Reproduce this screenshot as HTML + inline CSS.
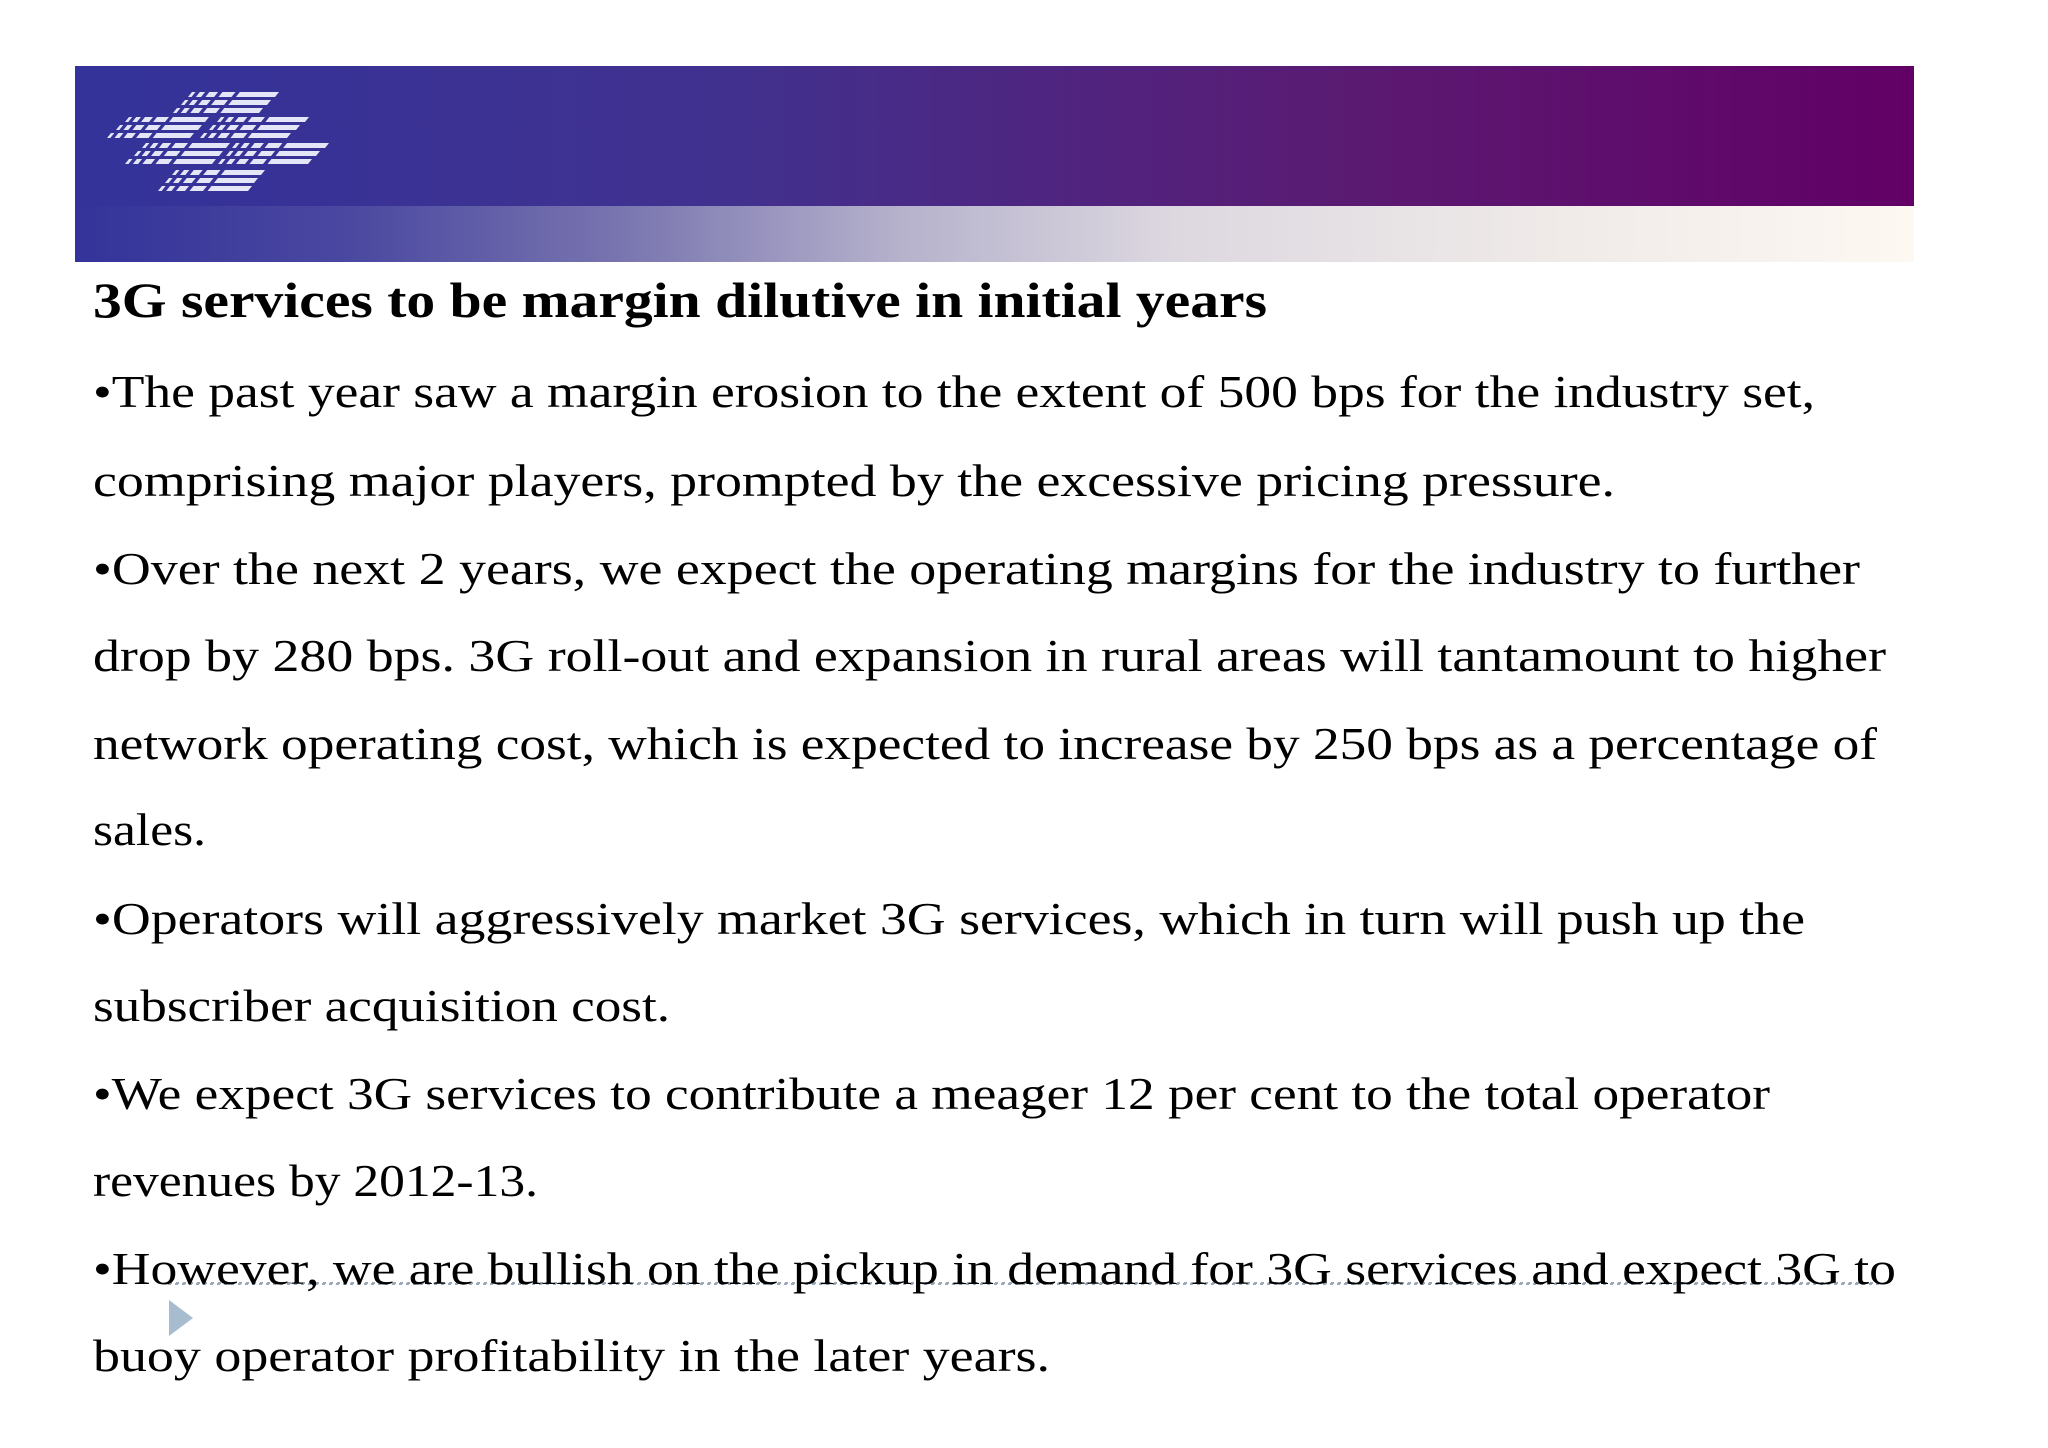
<!DOCTYPE html>
<html><head><meta charset="utf-8">
<style>
html,body{margin:0;padding:0;background:#fff;}
svg{display:block;}
text{font-family:"Liberation Serif",serif;fill:#000;}
</style></head>
<body>
<svg width="2048" height="1448" viewBox="0 0 2048 1448" xmlns="http://www.w3.org/2000/svg">
<defs>
<linearGradient id="top" x1="0" x2="1" y1="0" y2="0">
<stop offset="0" stop-color="#33339a"/>
<stop offset="0.35" stop-color="#41318f"/>
<stop offset="0.7" stop-color="#5b1a72"/>
<stop offset="1" stop-color="#620066"/>
</linearGradient>
<linearGradient id="bot" x1="0" x2="1" y1="0" y2="0">
<stop offset="0" stop-color="#33339a"/>
<stop offset="0.15" stop-color="#4a48a0"/>
<stop offset="0.3" stop-color="#7a76b0"/>
<stop offset="0.45" stop-color="#b6b2cc"/>
<stop offset="0.6" stop-color="#ddd8e0"/>
<stop offset="0.8" stop-color="#efeae8"/>
<stop offset="1" stop-color="#fdf8f2"/>
</linearGradient>
</defs>
<g>
<rect x="75" y="66" width="1839" height="140" fill="url(#top)"/>
<rect x="75" y="206" width="1839" height="56" fill="url(#bot)"/>
</g>
<g fill="#e4e6f8" id="logo"></g>
<rect x="169" y="1283" width="1712" height="1" fill="none" stroke="#9aa8b8" stroke-width="2" stroke-dasharray="3,4"/>
<polygon points="169,1300 193,1318 169,1336" fill="#a8bccf"/>
<text x="93" y="317" font-size="50" font-weight="bold" textLength="1174" lengthAdjust="spacingAndGlyphs">3G services to be margin dilutive in initial years</text>
<g font-size="46">
<text x="93" y="407" textLength="1722" lengthAdjust="spacingAndGlyphs">•The past year saw a margin erosion to the extent of 500 bps for the industry set,</text>
<text x="93" y="496" textLength="1522" lengthAdjust="spacingAndGlyphs">comprising major players, prompted by the excessive pricing pressure.</text>
<text x="93" y="584" textLength="1767" lengthAdjust="spacingAndGlyphs">•Over the next 2 years, we expect the operating margins for the industry to further</text>
<text x="93" y="671" textLength="1793" lengthAdjust="spacingAndGlyphs">drop by 280 bps. 3G roll-out and expansion in rural areas will tantamount to higher</text>
<text x="93" y="759" textLength="1784" lengthAdjust="spacingAndGlyphs">network operating cost, which is expected to increase by 250 bps as a percentage of</text>
<text x="93" y="845" textLength="113" lengthAdjust="spacingAndGlyphs">sales.</text>
<text x="93" y="934" textLength="1712" lengthAdjust="spacingAndGlyphs">•Operators will aggressively market 3G services, which in turn will push up the</text>
<text x="93" y="1021" textLength="577" lengthAdjust="spacingAndGlyphs">subscriber acquisition cost.</text>
<text x="93" y="1109" textLength="1677" lengthAdjust="spacingAndGlyphs">•We expect 3G services to contribute a meager 12 per cent to the total operator</text>
<text x="93" y="1196" textLength="445" lengthAdjust="spacingAndGlyphs">revenues by 2012-13.</text>
<text x="93" y="1284" textLength="1803" lengthAdjust="spacingAndGlyphs">•However, we are bullish on the pickup in demand for 3G services and expect 3G to</text>
<text x="93" y="1371" textLength="957" lengthAdjust="spacingAndGlyphs">buoy operator profitability in the later years.</text>
</g>
<script>
(function(){
var g=document.getElementById('logo');
var NS='http://www.w3.org/2000/svg';
// rows: [y, xStart, xEnd]
var rows=[[92,188,275],[100,181,267],[108,173,259],[117,125,205],[125,116,198],[133,107,190],[117,217,305],[125,209,296],[133,200,287],[143,142,226],[151,134,219],[159,125,212],[143,232,325],[151,226,316],[159,218,308],[170,172,261],[178,165,254],[186,158,248]];
rows.forEach(function(r){
var y=r[0],x0=r[1],x1=r[2],w=x1-x0,h=5,s=4;
var segs=[[0,0.04],[0.09,0.15],[0.2,0.3],[0.35,0.5],[0.55,1]];
segs.forEach(function(sg){
var a=x0+w*sg[0],b=x0+w*sg[1];
var p=document.createElementNS(NS,'polygon');
p.setAttribute('points',(a+s)+','+y+' '+(b+s)+','+y+' '+b+','+(y+h)+' '+a+','+(y+h));


g.appendChild(p);
});
});
})();
</script>
</svg>
</body></html>
